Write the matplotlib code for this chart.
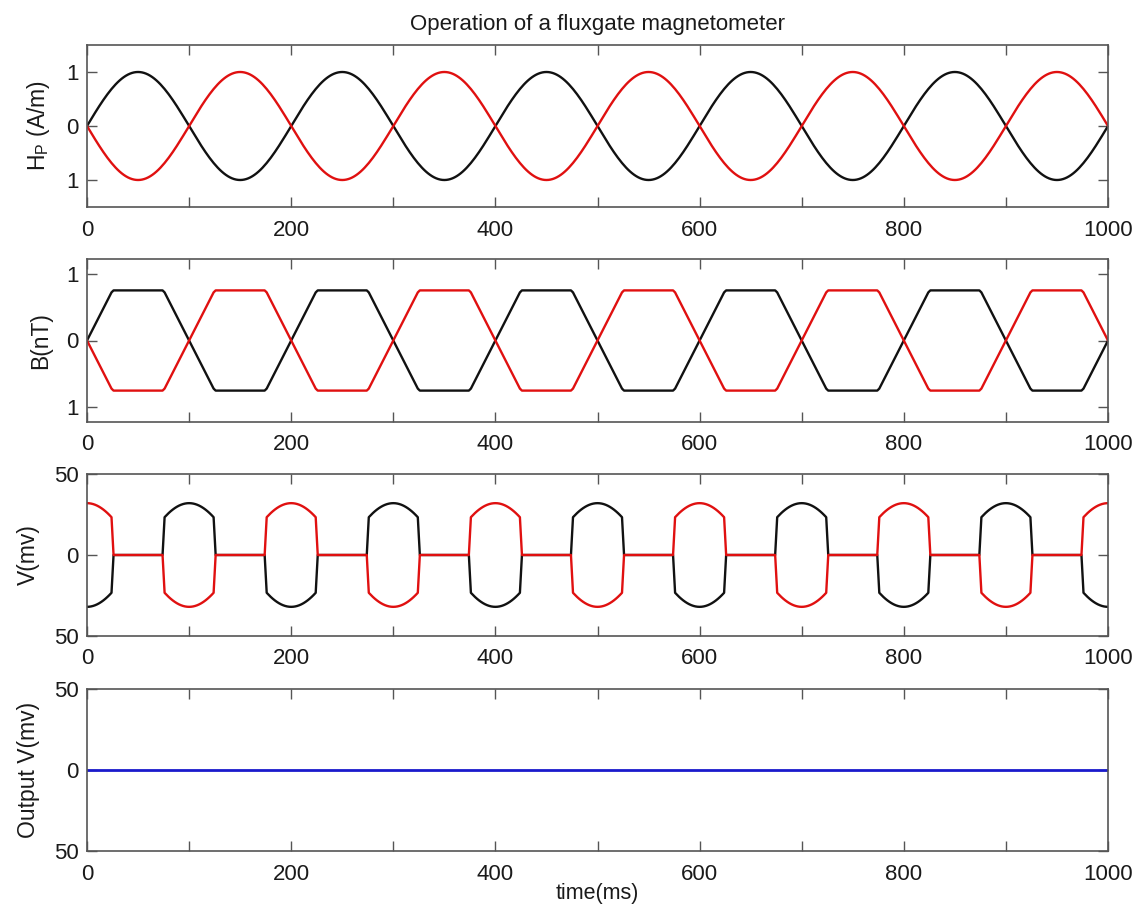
import numpy as np
import matplotlib
matplotlib.use("Agg")
import matplotlib.pyplot as plt

plt.rcParams['font.family'] = ['Liberation Sans', 'DejaVu Sans']
plt.rcParams['mathtext.fontset'] = 'custom'
plt.rcParams['mathtext.rm'] = 'Liberation Sans'
plt.rcParams['mathtext.it'] = 'Liberation Sans'

# ---- data ----
time_ms = np.arange(0, 1000.01, 2.0)          # sampling grid (ms)
hp_period_ms = 200.0                          # period of drive field
hp_amplitude = 1.0                            # A/m
b_break_t = [0, 25, 75, 125, 175, 200]        # one period of B breakpoints (ms)
b_break_black = [0, 0.75, 0.75, -0.75, -0.75, 0]
v_amplitude = 32.0                            # mV peak of pick-up voltage
output_level = 0.0                            # mV

title = "Operation of a fluxgate magnetometer"
ylabels = [r"H$_\mathrm{P}$ (A/m)", "B(nT)", "V(mv)", "Output V(mv)"]
xlabel = "time(ms)"
xtick_vals = list(range(0, 1001, 100))
xtick_labels = [str(v) if v % 200 == 0 else "" for v in xtick_vals]
ytick_sets = [([-1, 0, 1], ["1", "0", "1"]),
              ([-1, 0, 1], ["1", "0", "1"]),
              ([-50, 0, 50], ["50", "0", "50"]),
              ([-50, 0, 50], ["50", "0", "50"])]
ylims = [(-1.5, 1.5), (-1.22, 1.22), (-50, 50), (-50, 50)]

# ---- derived curves ----
phase = 2 * np.pi * time_ms / hp_period_ms
hp_black = hp_amplitude * np.sin(phase)
hp_red = -hp_black
b_black = np.interp(time_ms % hp_period_ms, b_break_t, b_break_black)
b_red = -b_black
unsat = ((time_ms % 100) <= 25) | ((time_ms % 100) >= 75)
v_black = np.where(unsat, -v_amplitude * np.cos(phase), 0.0)
v_red = -v_black
out = np.full_like(time_ms, output_level)

BLACK = '#111111'
RED = '#e01010'
BLUE = '#1a1acc'
TXT = '#1a1a1a'

fig = plt.figure(figsize=(11.39, 9.09), dpi=100)
W = 1139.0
H = 909.0
left = 87 / W
width = (1108 - 87) / W
tops = [45, 259, 474, 689]
bots = [207, 422, 636, 851]
axes = []
for t, b in zip(tops, bots):
    ax = fig.add_axes([left, 1 - b / H, width, (b - t) / H])
    axes.append(ax)

lw = 1.7
axes[0].plot(time_ms, hp_black, color=BLACK, lw=lw)
axes[0].plot(time_ms, hp_red, color=RED, lw=lw)
axes[1].plot(time_ms, b_black, color=BLACK, lw=lw)
axes[1].plot(time_ms, b_red, color=RED, lw=lw)
axes[2].plot(time_ms, v_black, color=BLACK, lw=lw)
axes[2].plot(time_ms, v_red, color=RED, lw=lw)
axes[3].plot(time_ms, out, color=BLUE, lw=lw + 0.3)

for i, ax in enumerate(axes):
    ax.set_xlim(0, 1000)
    ax.set_ylim(*ylims[i])
    ax.set_xticks(xtick_vals)
    ax.set_xticklabels(xtick_labels)
    ax.set_yticks(ytick_sets[i][0])
    ax.set_yticklabels(ytick_sets[i][1])
    ax.tick_params(direction='in', top=True, right=True, length=7,
                   width=1.0, colors='#555555', labelcolor=TXT,
                   labelsize=16)
    ax.tick_params(axis='x', pad=9)
    ax.tick_params(axis='y', pad=6)
    for s in ax.spines.values():
        s.set_color('#555555')
        s.set_linewidth(1.2)
    ax.set_ylabel(ylabels[i], fontsize=16.5, color=TXT, labelpad=10)

axes[0].set_title(title, fontsize=16, color=TXT, pad=11)
axes[3].set_xlabel(xlabel, fontsize=15.5, color=TXT, labelpad=-1)

fig.savefig("out.png", dpi=100)
